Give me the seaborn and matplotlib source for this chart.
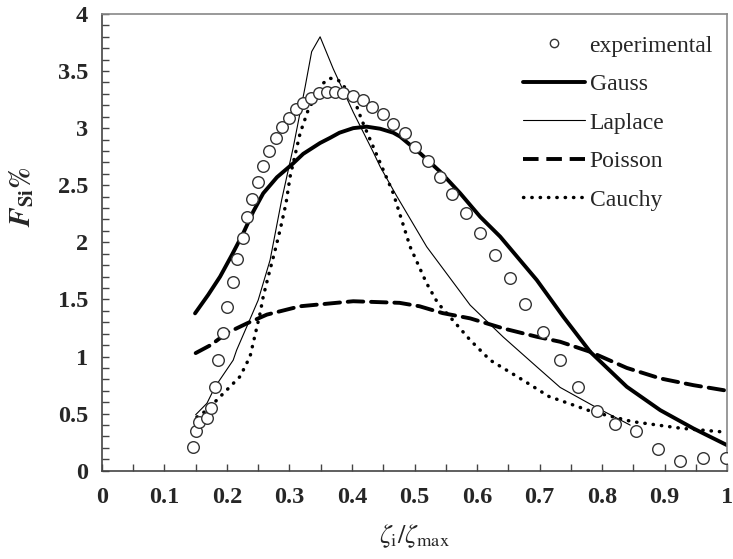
import matplotlib
matplotlib.use('Agg')
import matplotlib.pyplot as plt
import seaborn as sns
import pandas as pd
from matplotlib.lines import Line2D
from matplotlib.ticker import MultipleLocator

# experimental points
EXP_X = [0.145, 0.150, 0.155, 0.1675, 0.174, 0.181, 0.186, 0.194, 0.2005, 0.210,
         0.2165, 0.225, 0.2315, 0.2395, 0.250, 0.258, 0.268, 0.278, 0.2885, 0.299,
         0.310, 0.322, 0.334, 0.347, 0.3595, 0.373, 0.386, 0.401, 0.417, 0.4325,
         0.450, 0.466, 0.484, 0.501, 0.522, 0.540, 0.5595, 0.582, 0.605, 0.629,
         0.652, 0.677, 0.705, 0.732, 0.762, 0.792, 0.821, 0.854, 0.890, 0.924,
         0.961, 0.998]
EXP_Y = [0.209, 0.346, 0.422, 0.457, 0.550, 0.734, 0.968, 1.202, 1.430, 1.649,
         1.851, 2.040, 2.224, 2.377, 2.531, 2.671, 2.800, 2.911, 3.008, 3.092,
         3.166, 3.218, 3.262, 3.306, 3.320, 3.320, 3.306, 3.282, 3.247, 3.188,
         3.122, 3.037, 2.955, 2.838, 2.715, 2.575, 2.423, 2.254, 2.084, 1.889,
         1.684, 1.459, 1.216, 0.968, 0.729, 0.521, 0.408, 0.349, 0.186, 0.086,
         0.107, 0.107]

GAUSS_X = [0.149, 0.17, 0.189, 0.208, 0.226, 0.242, 0.258, 0.28, 0.306, 0.322,
           0.349, 0.365, 0.38, 0.402, 0.4235, 0.445, 0.466, 0.477, 0.509, 0.541,
           0.573, 0.605, 0.637, 0.6955, 0.738, 0.781, 0.8395, 0.893, 0.946, 1.0]
GAUSS_Y = [1.378, 1.54, 1.699, 1.89, 2.079, 2.268, 2.429, 2.57, 2.692, 2.775,
           2.87, 2.915, 2.96, 3.0, 3.013, 2.995, 2.96, 2.926, 2.78, 2.619,
           2.43, 2.224, 2.05, 1.67, 1.348, 1.041, 0.735, 0.53, 0.37, 0.223]

LAPLACE_X = [0.15, 0.168, 0.181, 0.21, 0.2155, 0.234, 0.25, 0.269, 0.2875, 0.306,
             0.325, 0.3355, 0.349, 0.37, 0.402, 0.434, 0.445, 0.471, 0.5195, 0.589,
             0.642, 0.6955, 0.733, 0.789, 0.845]
LAPLACE_Y = [0.49, 0.59, 0.734, 0.968, 1.056, 1.29, 1.494, 1.845, 2.371, 2.83,
             3.36, 3.67, 3.80, 3.52, 3.14, 2.79, 2.663, 2.41, 1.961, 1.45,
             1.17, 0.91, 0.729, 0.559, 0.399]

POISSON_X = [0.15, 0.174, 0.2, 0.232, 0.264, 0.317, 0.402, 0.476, 0.508, 0.545,
             0.589, 0.642, 0.6955, 0.733, 0.781, 0.8395, 0.893, 0.946, 1.0]
POISSON_Y = [1.03, 1.10, 1.206, 1.29, 1.367, 1.44, 1.484, 1.47, 1.44, 1.38,
             1.334, 1.246, 1.173, 1.129, 1.041, 0.9, 0.808, 0.749, 0.70]

CAUCHY_X = [0.152, 0.168, 0.184, 0.2, 0.221, 0.237, 0.253, 0.258, 0.266, 0.277,
            0.285, 0.2945, 0.301, 0.317, 0.330, 0.354, 0.365, 0.378, 0.402, 0.4155,
            0.4315, 0.45, 0.466, 0.493, 0.519, 0.537, 0.561, 0.589, 0.621, 0.669,
            0.715, 0.784, 0.848, 0.927, 0.99]
CAUCHY_Y = [0.47, 0.53, 0.62, 0.708, 0.825, 1.0, 1.378, 1.523, 1.699, 1.93,
            2.108, 2.342, 2.575, 2.955, 3.16, 3.394, 3.437, 3.42, 3.276, 3.072,
            2.868, 2.634, 2.43, 1.961, 1.645, 1.47, 1.32, 1.144, 0.968, 0.808,
            0.65, 0.517, 0.43, 0.371, 0.341]

LABELS = ['experimental', 'Gauss', 'Laplace', 'Poisson', 'Cauchy']

sns.set_style('ticks')
plt.rcParams['font.family'] = ['Liberation Serif', 'DejaVu Serif']
plt.rcParams['mathtext.fontset'] = 'stix'

fig = plt.figure(figsize=(7.33, 5.59), dpi=100)
ax = fig.add_axes([0.139, 0.158, 0.853, 0.817])

DASH = (0, (4, 2.0))
DOT = (0, (0.1, 2.3))
styles = {
    'Gauss': dict(lw=2.8, ls='-'),
    'Laplace': dict(lw=0.8, ls='-'),
    'Poisson': dict(lw=2.8, ls=DASH),
    'Cauchy': dict(lw=2.5, ls=DOT),
}
curves = {
    'Gauss': (GAUSS_X, GAUSS_Y),
    'Laplace': (LAPLACE_X, LAPLACE_Y),
    'Poisson': (POISSON_X, POISSON_Y),
    'Cauchy': (CAUCHY_X, CAUCHY_Y),
}
for name, (xs, ys) in curves.items():
    df = pd.DataFrame({'x': xs, 'y': ys})
    sns.lineplot(data=df, x='x', y='y', ax=ax, color='black', sort=False,
                 estimator=None, linewidth=styles[name]['lw'],
                 linestyle=styles[name]['ls'], dash_capstyle='round',
                 solid_joinstyle='round')

exp_df = pd.DataFrame({'x': EXP_X, 'y': EXP_Y})
sns.scatterplot(data=exp_df, x='x', y='y', ax=ax, marker='o', s=70,
                facecolor='white', edgecolor='#333333', linewidth=1.0, zorder=3)

ax.set_xlim(0, 1)
ax.set_ylim(0, 4)
ax.xaxis.set_major_locator(MultipleLocator(0.1))
ax.xaxis.set_minor_locator(MultipleLocator(0.05))
ax.yaxis.set_major_locator(MultipleLocator(0.5))
ax.yaxis.set_minor_locator(MultipleLocator(0.1))
ax.xaxis.set_major_formatter(plt.FuncFormatter(lambda v, p: f'{v:g}'))
ax.yaxis.set_major_formatter(plt.FuncFormatter(lambda v, p: f'{v:g}'))
ax.tick_params(which='both', direction='in', length=5, width=1, color='#444444',
               top=False, right=False)
ax.tick_params(axis='x', which='major', labelsize=17.5, pad=12)
ax.tick_params(axis='y', which='major', labelsize=17.5, pad=10)
for lab in ax.get_xticklabels() + ax.get_yticklabels():
    lab.set_fontweight('bold')

for side in ['left', 'bottom', 'top', 'right']:
    ax.spines[side].set_visible(True)
    ax.spines[side].set_linewidth(1.2)
    ax.spines[side].set_color('#444444')
ax.spines['top'].set_color('#888888')
ax.spines['right'].set_color('#888888')

ax.set_xlabel(r'$\zeta_{\mathrm{i}}/\zeta_{\mathrm{max}}$', fontsize=19, labelpad=10)
ax.set_ylabel(r'$\mathbfit{F}_{\mathbf{Si}}\mathbf{\%}$', fontsize=21)
ax.yaxis.set_label_coords(-0.105, 0.6)

handles = [
    Line2D([], [], marker='o', ls='none', markersize=6, markerfacecolor='white',
           markeredgecolor='#333333', markeredgewidth=1.0),
    Line2D([], [], color='black', lw=2.8),
    Line2D([], [], color='black', lw=0.8),
    Line2D([], [], color='black', lw=2.8, ls=DASH),
    Line2D([], [], color='black', lw=2.5, ls=DOT, dash_capstyle='round'),
]
ax.legend(handles, LABELS, loc='upper right', bbox_to_anchor=(1.0, 0.985),
          frameon=False, fontsize=17, handlelength=2.6, handletextpad=0.2,
          labelspacing=0.72, borderaxespad=0.2)

fig.savefig('out.png', dpi=100)
